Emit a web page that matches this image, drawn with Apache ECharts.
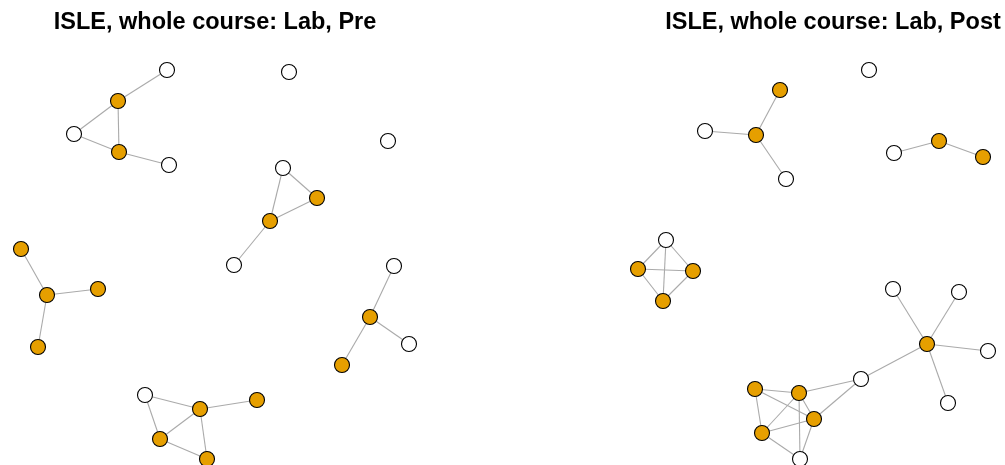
<!DOCTYPE html>
<html>
<head>
<meta charset="utf-8">
<script src="https://cdn.jsdelivr.net/npm/echarts@6/dist/echarts.min.js"></script>
<style>html,body{margin:0;padding:0;background:#fff;}#c{width:1005px;height:465px;}</style>
</head>
<body>
<div id="c"></div>
<script>
// Panel titles
var titles = ["ISLE, whole course: Lab, Pre", "ISLE, whole course: Lab, Post"];

// Pre network: node positions [x, y] and group (1 = orange, 0 = white)
var preX = [167,118,74,119,169,289,388,283,317,270,234,21,47,98,38,394,370,409,342,145,200,257,160,207];
var preY = [70,101,134,152,165,72,141,168,198,221,265,249,295,289,347,266,317,344,365,395,409,400,439,459];
var preGroup = [0,1,0,1,0,0,0,0,1,1,0,1,1,1,1,0,1,0,1,0,1,1,1,1];
var preEdges = [[0,1],[1,2],[1,3],[2,3],[3,4],[7,8],[7,9],[8,9],[9,10],[11,12],[12,13],[12,14],[15,16],[16,17],[16,18],[19,20],[19,22],[20,21],[20,22],[20,23],[22,23]];

// Post network
var postX = [869,780,705,756,786,894,939,983,666,638,693,663,893,959,927,988,948,861,755,799,814,762,800];
var postY = [70,90,131,135,179,153,141,157,240,269,271,301,289,292,344,351,403,379,389,393,419,433,459];
var postGroup = [0,1,0,1,0,0,1,1,0,1,1,1,0,0,1,0,0,0,1,1,1,1,0];
var postEdges = [[1,3],[2,3],[3,4],[5,6],[6,7],[8,9],[8,10],[8,11],[9,10],[9,11],[10,11],[14,12],[14,13],[14,15],[14,16],[14,17],[18,19],[18,20],[18,21],[19,17],[19,21],[19,22],[19,20],[20,17],[20,21],[20,22],[21,22]];

var ORANGE = '#E69F00';

function nodes(xs, ys, gs) {
  return xs.map(function (x, i) {
    return {
      value: [x, ys[i]],
      itemStyle: { color: gs[i] ? ORANGE : '#ffffff', borderColor: '#000', borderWidth: 1.1 }
    };
  });
}
function links(es) {
  return es.map(function (e) { return { source: e[0], target: e[1] }; });
}

var chart = echarts.init(document.getElementById('c'), null, { renderer: 'canvas' });
chart.setOption({
  animation: false,
  backgroundColor: '#ffffff',
  grid: [
    { left: 0, top: 0, width: 502, height: 465 },
    { left: 502, top: 0, width: 503, height: 465 }
  ],
  xAxis: [
    { gridIndex: 0, type: 'value', min: 0, max: 502, show: false },
    { gridIndex: 1, type: 'value', min: 502, max: 1005, show: false }
  ],
  yAxis: [
    { gridIndex: 0, type: 'value', min: 0, max: 465, inverse: true, show: false },
    { gridIndex: 1, type: 'value', min: 0, max: 465, inverse: true, show: false }
  ],
  graphic: [
    { type: 'text', x: 215, y: 23, style: { text: titles[0], font: 'bold 23.5px "Liberation Sans", Arial, sans-serif', fill: '#000', textAlign: 'center', textVerticalAlign: 'middle' } },
    { type: 'text', x: 833, y: 23, style: { text: titles[1], font: 'bold 23.5px "Liberation Sans", Arial, sans-serif', fill: '#000', textAlign: 'center', textVerticalAlign: 'middle' } }
  ],
  series: [
    {
      type: 'graph', coordinateSystem: 'cartesian2d', xAxisIndex: 0, yAxisIndex: 0,
      symbol: 'circle', symbolSize: 15, silent: true,
      data: nodes(preX, preY, preGroup),
      links: links(preEdges),
      lineStyle: { color: '#aaaaaa', width: 1.1, opacity: 1, curveness: 0 },
      label: { show: false }
    },
    {
      type: 'graph', coordinateSystem: 'cartesian2d', xAxisIndex: 1, yAxisIndex: 1,
      symbol: 'circle', symbolSize: 15, silent: true,
      data: nodes(postX, postY, postGroup),
      links: links(postEdges),
      lineStyle: { color: '#aaaaaa', width: 1.1, opacity: 1, curveness: 0 },
      label: { show: false }
    }
  ]
});
</script>
</body>
</html>
